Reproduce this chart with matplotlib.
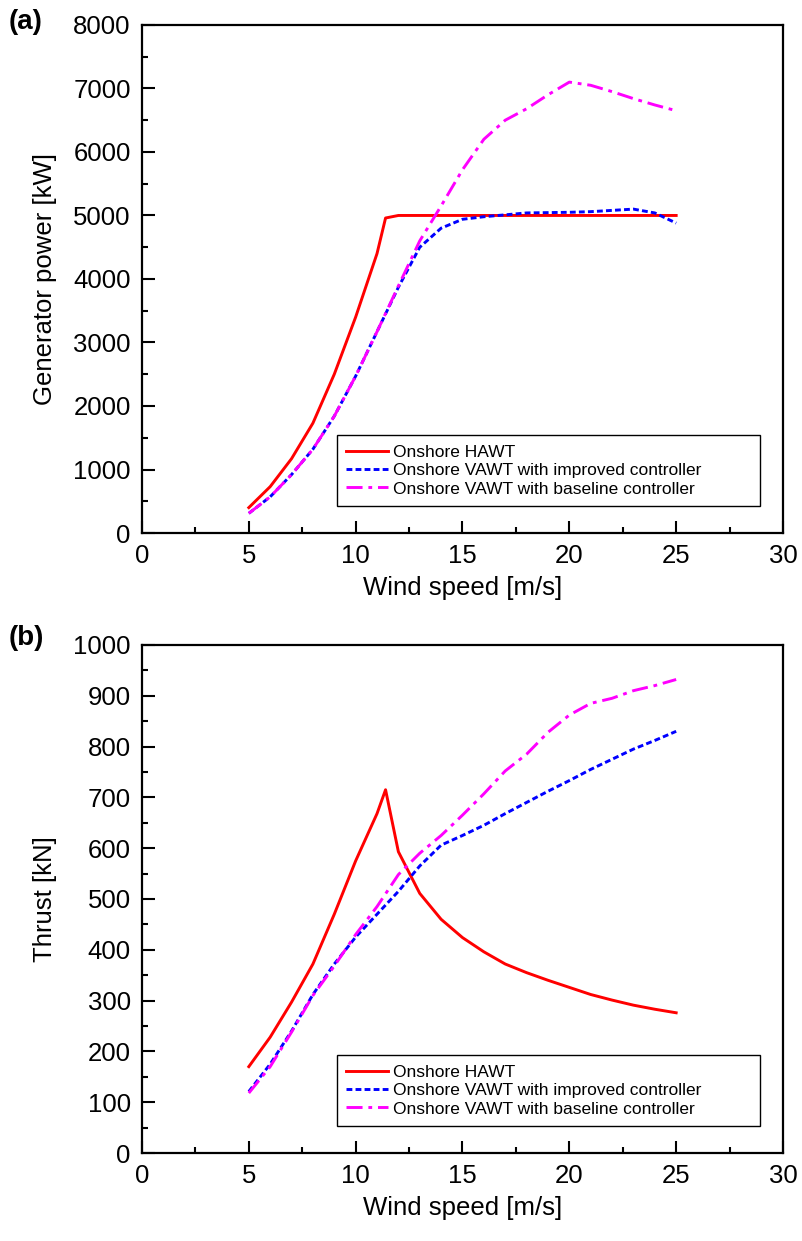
import matplotlib
matplotlib.use("Agg")
import matplotlib.pyplot as plt
from matplotlib.ticker import MultipleLocator

plt.rcParams['font.family'] = ['Liberation Sans', 'DejaVu Sans']

# Generator power [kW]
ws_hawt = [5, 6, 7, 8, 9, 10, 11, 11.4, 12, 13, 14, 15, 16, 17, 18, 19, 20, 21, 22, 23, 24, 25]
power_hawt = [400, 730, 1170, 1730, 2500, 3400, 4400, 4960, 5000, 5000, 5000, 5000, 5000,
              5000, 5000, 5000, 5000, 5000, 5000, 5000, 5000, 5000]

ws_vawt = [5, 6, 7, 8, 9, 10, 11, 12, 13, 14, 15, 16, 17, 18, 19, 20, 21, 22, 23, 24, 25]
power_vawt_improved = [310, 570, 920, 1320, 1840, 2470, 3170, 3870, 4500, 4800, 4940, 4980,
                       5010, 5040, 5045, 5050, 5060, 5080, 5100, 5040, 4880]
power_vawt_baseline = [310, 570, 920, 1320, 1840, 2470, 3170, 3890, 4600, 5150, 5720, 6200,
                       6500, 6680, 6900, 7100, 7050, 6950, 6840, 6740, 6650]

# Thrust [kN]
thrust_hawt = [170, 228, 297, 372, 470, 575, 668, 715, 593, 511, 460, 424, 396, 372, 355,
               340, 326, 312, 301, 291, 283, 276]
thrust_vawt_improved = [121, 175, 240, 312, 372, 425, 470, 515, 565, 606, 625, 645, 668,
                        690, 712, 733, 755, 775, 795, 812, 830]
thrust_vawt_baseline = [118, 170, 238, 310, 368, 430, 485, 548, 590, 625, 665, 707, 752,
                        785, 828, 862, 885, 895, 910, 920, 932]

labels = ["Onshore HAWT",
          "Onshore VAWT with improved controller",
          "Onshore VAWT with baseline controller"]

fig = plt.figure(figsize=(8.03, 12.41), dpi=100)
ax_a = fig.add_axes([0.1768, 0.5705, 0.7983, 0.4094])
ax_b = fig.add_axes([0.1768, 0.0709, 0.7983, 0.4094])

ls_improved = (0, (2.0, 1.1))
ls_baseline = (0, (5.5, 2.0, 1.3, 2.0))
LW = 2.1


def style_axes(ax, ymax, ymajor, yminor):
    ax.set_xlim(0, 30)
    ax.set_ylim(0, ymax)
    ax.xaxis.set_major_locator(MultipleLocator(5))
    ax.xaxis.set_minor_locator(MultipleLocator(2.5))
    ax.yaxis.set_major_locator(MultipleLocator(ymajor))
    ax.yaxis.set_minor_locator(MultipleLocator(yminor))
    ax.tick_params(which='both', direction='in', top=False, right=False,
                   width=1.5, labelsize=18.5, pad=8)
    ax.tick_params(which='major', length=9)
    ax.tick_params(which='minor', length=4.5)
    for s in ax.spines.values():
        s.set_linewidth(1.6)
    ax.set_xlabel("Wind speed [m/s]", fontsize=18.5, labelpad=6)
    leg = ax.legend(loc='lower left', bbox_to_anchor=(0.304, 0.053, 0.66, 0.14),
                    mode='expand', borderaxespad=0,
                    fancybox=False, edgecolor='black', framealpha=1,
                    handlelength=2.4, handletextpad=0.3, labelspacing=0.18,
                    borderpad=0.55, prop={'size': 12.5})
    leg.get_frame().set_linewidth(1.0)


ax_a.plot(ws_hawt, power_hawt, color='red', lw=LW, label=labels[0])
ax_a.plot(ws_vawt, power_vawt_improved, color='blue', lw=LW, ls=ls_improved, label=labels[1])
ax_a.plot(ws_vawt, power_vawt_baseline, color='magenta', lw=LW, ls=ls_baseline, label=labels[2])
ax_a.set_ylabel("Generator power [kW]", fontsize=18.5, labelpad=12)
style_axes(ax_a, 8000, 1000, 500)

ax_b.plot(ws_hawt, thrust_hawt, color='red', lw=LW, label=labels[0])
ax_b.plot(ws_vawt, thrust_vawt_improved, color='blue', lw=LW, ls=ls_improved, label=labels[1])
ax_b.plot(ws_vawt, thrust_vawt_baseline, color='magenta', lw=LW, ls=ls_baseline, label=labels[2])
ax_b.set_ylabel("Thrust [kN]", fontsize=18.5, labelpad=12)
style_axes(ax_b, 1000, 100, 50)

fig.text(0.011, 0.982, "(a)", fontsize=20, fontweight='bold', va='center', ha='left')
fig.text(0.011, 0.486, "(b)", fontsize=20, fontweight='bold', va='center', ha='left')

fig.savefig("out.png", dpi=100)
